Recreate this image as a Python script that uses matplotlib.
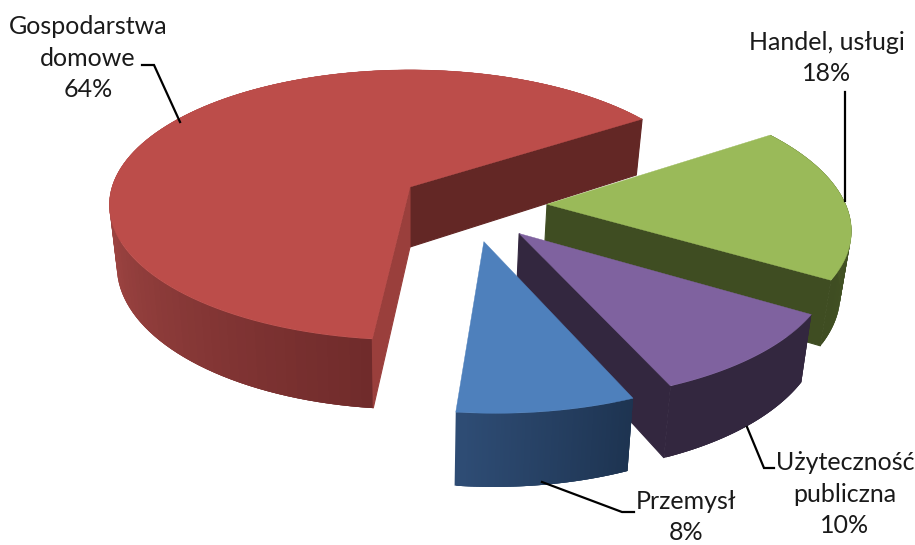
import numpy as np
import matplotlib
matplotlib.use('Agg')
import matplotlib.pyplot as plt
from matplotlib.colors import to_rgb
from matplotlib.patches import Polygon

# Data
names = ['Gospodarstwa\ndomowe', 'Przemysł', 'Użyteczność\npubliczna', 'Handel, usługi']
shares = [64, 8, 10, 18]
start_angle = 33.3

# Look of each slice
top_colors = ['#BC4D4A', '#4E80BC', '#7F629F', '#9ABA59']
side_colors = [('#AB4C49', '#6E2A2A'), ('#2E4C74', '#1D3350'), ('#33273F', '#33273F'), ('#3F4D22', '#4A5C27')]
side_ranges = [(170, 265), (265, 293), (293, 330), (330, 395)]
# which cut faces show: (color at first edge, color at last edge), None if hidden
cut_colors = [('#632725', '#9A3F3C'), (None, None), ('#33273F', None), ('#3F4D22', None)]
# slice shift on the pie plane (x, y) and radius
explode = [(0.0, 0.0), (0.235, -0.39), (0.35, -0.335), (0.452, -0.128)]
radius = [1.0, 1.0, 0.99, 0.985]

# Projection of the pie plane to the picture
cx, cy = 410, 187
a, b = 298, 132.7
k = 0.133
depth = 60
shrink = 0.975


def project(x, y, low=False):
    den = 1 + k * y
    if low:
        return cx + shrink * a * x / den, cy - b * y / den + depth / den
    return cx + a * x / den, cy - b * y / den


def mix(c1, c2, f):
    c1, c2 = np.array(to_rgb(c1)), np.array(to_rgb(c2))
    return tuple(c1 + (c2 - c1) * f)


fig = plt.figure(figsize=(9.15, 5.45), dpi=100)
ax = fig.add_axes([0, 0, 1, 1])
ax.set_xlim(0, 915)
ax.set_ylim(545, 0)
ax.axis('off')

edges = start_angle + np.cumsum([0] + [s * 3.6 for s in shares])
order = [0, 3, 2, 1]  # back to front

for i in order:
    t0, t1 = edges[i], edges[i + 1]
    ex, ey = explode[i]
    r = radius[i]
    ts = np.radians(np.linspace(t0, t1, 121))
    xs = ex + r * np.cos(ts)
    ys = ey + r * np.sin(ts)

    # outer wall: strips overlap the next one so no seams show
    lo, hi = side_ranges[i]
    for j in range(len(ts) - 1):
        f = np.clip((np.degrees(ts[j]) - lo) / (hi - lo), 0, 1)
        col = mix(side_colors[i][0], side_colors[i][1], f)
        j2 = min(j + 3, len(ts) - 1)
        quad = [project(xs[n], ys[n]) for n in range(j, j2 + 1)]
        quad += [project(xs[n], ys[n], True) for n in range(j2, j - 1, -1)]
        ax.add_patch(Polygon(quad, closed=True, fc=col, ec='none'))

    # cut faces
    for n, t in enumerate((t0, t1)):
        if cut_colors[i][n] is None:
            continue
        px, py = ex + r * np.cos(np.radians(t)), ey + r * np.sin(np.radians(t))
        quad = [project(ex, ey), project(px, py), project(px, py, True), project(ex, ey, True)]
        ax.add_patch(Polygon(quad, closed=True, fc=cut_colors[i][n], ec=cut_colors[i][n], lw=0.8))

    # top
    top = [project(ex, ey)] + [project(x, y) for x, y in zip(xs, ys)]
    ax.add_patch(Polygon(top, closed=True, fc=top_colors[i], ec=top_colors[i], lw=0.3))

# Labels with leader lines
font = dict(family='Lato', fontsize=18, color='#1a1a1a', ha='center', va='center', linespacing=1.47)
labels = [
    (88, 58, f'{names[0]}\n{shares[0]}%'),
    (686, 517, f'{names[1]}\n{shares[1]}%'),
    (845, 494, f'{names[2]}\n{shares[2]}%'),
    (827, 58, f'{names[3]}\n{shares[3]}%'),
]
for x, y, s in labels:
    ax.text(x, y, s, **font)

leaders = [
    ([142, 154, 180], [65, 65, 122]),
    ([542, 622, 634], [482, 512, 512]),
    ([747, 764, 774], [427, 468, 468]),
    ([845, 845], [92, 201]),
]
for lx, ly in leaders:
    ax.plot(lx, ly, color='black', lw=1.6, solid_joinstyle='miter')

fig.savefig('out.png', dpi=100)
